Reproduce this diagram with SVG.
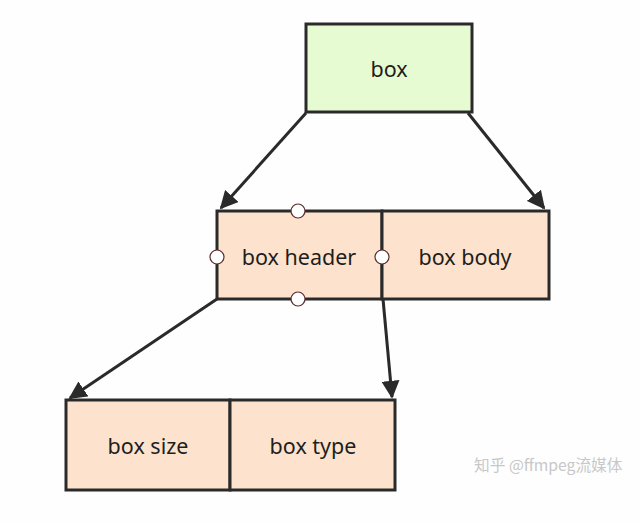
<svg xmlns="http://www.w3.org/2000/svg" width="640" height="522" viewBox="0 0 640 522">
<style>
.n{fill:#fde3cd;stroke:#2a2a2a;stroke-width:3}
.g{fill:#e7fbd3;stroke:#2a2a2a;stroke-width:3}
.t{font-family:"Noto Sans","Open Sans",sans-serif;font-size:21.5px;fill:#1e1e1e;text-anchor:middle;dominant-baseline:central}
.c{fill:none;stroke:#2a2a2a;stroke-width:3}
.p{fill:#fff;stroke:#5a2a2a;stroke-width:1.2}
.w{font-family:"Noto Sans CJK SC","Noto Sans",sans-serif;font-size:15.7px;fill:#c8c8c8}
</style>
<defs>
<marker id="a" viewBox="0 0 10 10" refX="9" refY="5" markerWidth="6" markerHeight="6" markerUnits="strokeWidth" orient="auto">
<path d="M0,0 L10,5 L0,10 z" fill="#2a2a2a"/>
</marker>
</defs>
<rect width="640" height="522" fill="#fefefe"/>
<g id="connectors">
<line class="c" x1="306" y1="113" x2="221" y2="208" marker-end="url(#a)"/>
<line class="c" x1="468" y1="113" x2="544" y2="208" marker-end="url(#a)"/>
<line class="c" x1="217" y1="299" x2="70" y2="398" marker-end="url(#a)"/>
<line class="c" x1="383" y1="299" x2="392" y2="397" marker-end="url(#a)"/>
</g>
<g id="box"><rect class="g" x="306" y="24" width="166" height="88"/><text class="t" x="389" y="68">box</text></g>
<g id="box-header"><rect class="n" x="217" y="211" width="165" height="88"/><text class="t" x="299" y="256">box header</text></g>
<g id="box-body"><rect class="n" x="382" y="211" width="167" height="88"/><text class="t" x="465" y="256">box body</text></g>
<g id="box-size"><rect class="n" x="66" y="400" width="164" height="90"/><text class="t" x="148" y="445">box size</text></g>
<g id="box-type"><rect class="n" x="230" y="400" width="165" height="90"/><text class="t" x="313" y="445">box type</text></g>
<g id="ports">
<circle class="p" cx="298" cy="211" r="7"/>
<circle class="p" cx="298" cy="299" r="7"/>
<circle class="p" cx="217" cy="257" r="7"/>
<circle class="p" cx="382" cy="257" r="7"/>
</g>
<text class="w" x="474" y="471">知乎 @ffmpeg流媒体</text>
</svg>
